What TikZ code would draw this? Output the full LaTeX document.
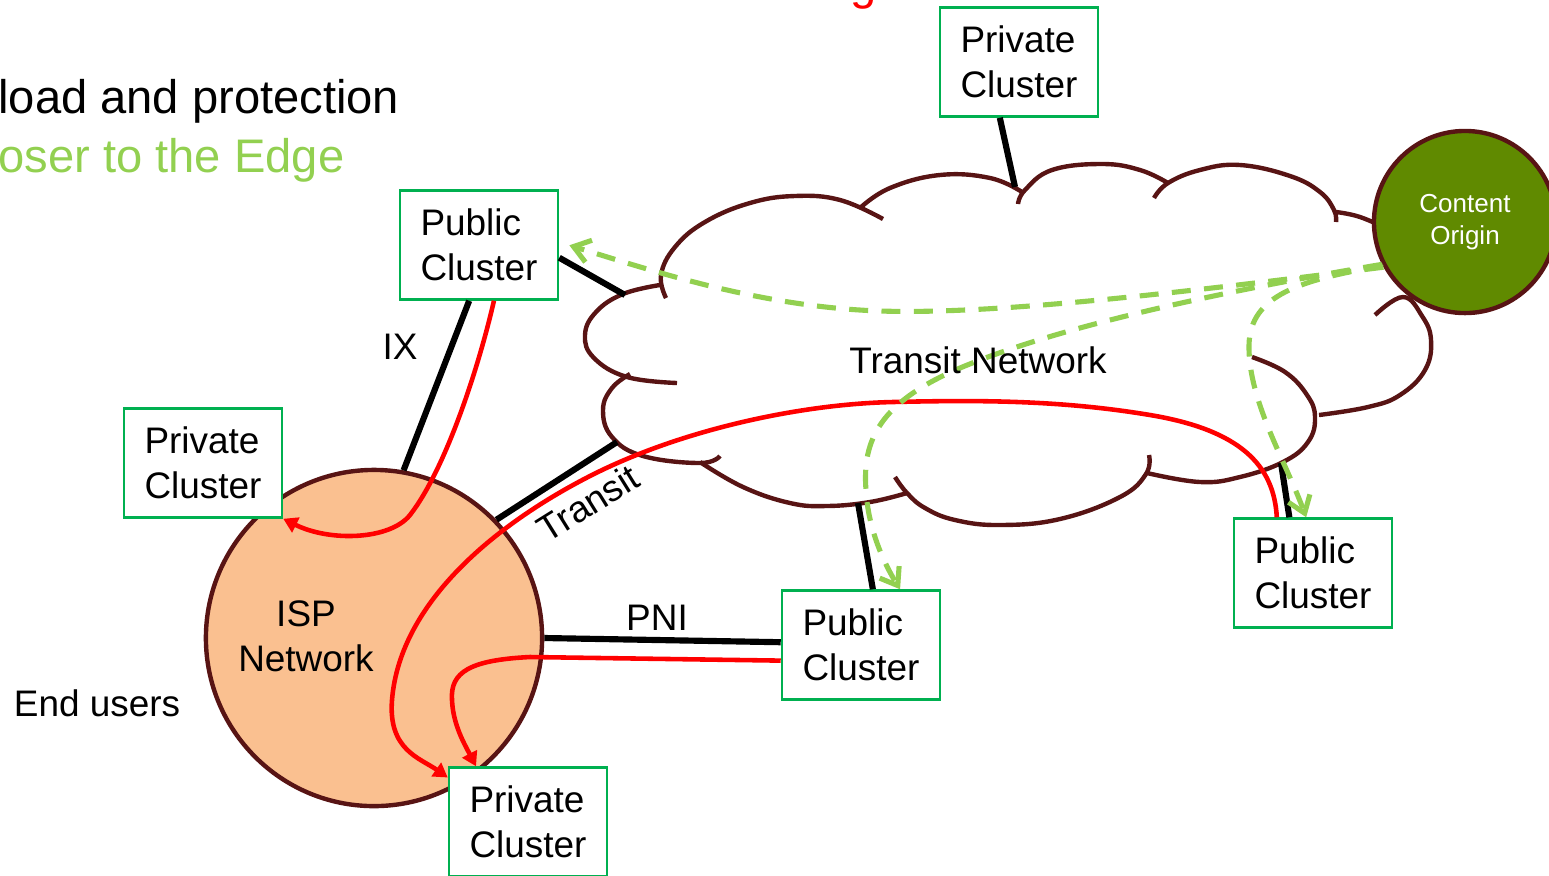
\documentclass[tikz,border=0pt]{standalone}
\usepackage{fontspec}
\setmainfont{Liberation Sans}
\usetikzlibrary{arrows.meta}
\definecolor{boxgreen}{RGB}{0,176,80}
\definecolor{edgebrown}{RGB}{88,20,20}
\definecolor{ispfill}{RGB}{250,192,144}
\definecolor{originfill}{RGB}{96,138,0}
\definecolor{dashgreen}{RGB}{146,208,80}

\begin{document}
\begin{tikzpicture}[x=0.01cm, y=-0.01cm,
  every node/.style = {font=\fontsize{10.5}{12.8}\selectfont},
  cluster/.style = {draw=boxgreen, line width=0.7pt, fill=white,
    minimum width=1.58cm, minimum height=1.09cm, align=left, inner sep=0pt},
  cloudline/.style = {draw=edgebrown, line width=1.25pt},
  link/.style = {line width=1.75pt},
  route/.style = {red, line width=1.3pt, -{Triangle[length=4pt, width=4.6pt]}},
  fetch/.style = {dashgreen, line width=1.45pt, dash pattern=on 5.4pt off 3.8pt,
    -{Straight Barb[length=4.5pt, width=6.5pt]}},
  bigtext/.style = {anchor=base east, inner sep=0pt, font=\fontsize{13.4}{15}\selectfont}]
    \useasboundingbox (0,0) rectangle (1549,875);
    \clip (0,0) rectangle (1549,875);

    \node[bigtext] (title) at (400,113) {load and protection};
    \node[bigtext, text=dashgreen] (subtitle) at (345,172) {oser to the Edge};
    \node[bigtext, anchor=base west, text=red] (heading) at (850,-1) {g};

    % transit cloud
    \draw[cloudline] plot[smooth, tension=0.7] coordinates {(660,285) (623,294) (596,312) (585,335) (594,358) (627,377) (677,383)};
    \draw[cloudline] plot[smooth, tension=0.7] coordinates {(666,298) (661,275) (675,247) (705,222) (750,203) (795,196) (840,200) (883,219)};
    \draw[cloudline] plot[smooth, tension=0.7] coordinates {(860,208) (890,188) (940,175) (990,178) (1022,192)};
    \draw[cloudline] plot[smooth, tension=0.7] coordinates {(1018,204) (1025,190) (1052,170) (1102,164) (1140,170) (1168,183)};
    \draw[cloudline] plot[smooth, tension=0.7] coordinates {(1154,198) (1168,183) (1200,170) (1240,165) (1290,176) (1320,192) (1334,210) (1336,222)};
    \draw[cloudline] plot[smooth, tension=0.7] coordinates {(1336,212) (1360,217) (1390,230)};
    \draw[cloudline] plot[smooth, tension=0.7] coordinates {(1375,315) (1403,297) (1422,316) (1431,340) (1425,370) (1400,395) (1368,407) (1319,415)};
    \draw[cloudline] plot[smooth, tension=0.7] coordinates {(1252,357) (1285,372) (1307,395) (1315,417) (1308,442) (1283,462) (1240,477) (1200,482) (1147,473)};
    \draw[cloudline] plot[smooth, tension=0.7] coordinates {(1149,455) (1146,474) (1120,497) (1060,519) (1000,525) (955,520) (925,508) (907,493) (895,477)};
    \draw[cloudline] plot[smooth, tension=0.7] coordinates {(700,462) (743,487) (790,503) (827,506) (870,502) (907,493)};
    \draw[cloudline] plot[smooth, tension=0.7] coordinates {(630,374) (612,388) (603,410) (612,437) (643,456) (700,463) (720,456)};
    \coordinate (cTop) at (1015,187);
    \coordinate (cUL) at (625,295);
    \coordinate (cTransit) at (617,442);
    \coordinate (cMid) at (858,503);
    \coordinate (cRight) at (1281,463);

    \node[circle, draw=edgebrown, line width=1.25pt, fill=ispfill,
      minimum size=3.36cm, inner sep=0pt] (isp) at (374,638) {};
    \node[circle, draw=edgebrown, line width=1.25pt, fill=originfill, text=white,
      minimum size=1.82cm, inner sep=0pt, align=center,
      font=\fontsize{7.4}{9.1}\selectfont] (origin) at (1465,222) {Content\\Origin};

    \node[cluster] (privTop) at (1019,62) {Private\\Cluster};
    \node[cluster] (pubUL) at (479,245) {Public\\Cluster};
    \node[cluster] (privLeft) at (203,463) {Private\\Cluster};
    \node[cluster] (pubMid) at (861,645) {Public\\Cluster};
    \node[cluster] (pubRight) at (1313,573) {Public\\Cluster};
    \node[cluster] (privBot) at (528,822) {Private\\Cluster};

    \draw[link] (privTop.251) -- (cTop);
    \draw[link] (pubUL.351) -- (cUL);
    \draw[link] (pubUL.260) -- (isp.80);
    \draw[link] (isp.44) -- (cTransit);
    \draw[link] (isp.0) -- (pubMid.178);
    \draw[link] (pubMid.78) -- (cMid);
    \draw[link] (pubRight.113) -- (cRight);

    \draw[route] (pubUL.285) .. controls (478,370) and (445,470) .. (410,515)
      .. controls (390,540) and (330,542) .. (privLeft.south east);
    \draw[route] (pubRight.123) .. controls (1274,465) and (1240,430) .. (1150,415)
      .. controls (1060,400) and (980,400) .. (893,402)
      .. controls (800,404) and (680,430) .. (590,476)
      .. controls (500,522) and (400,600) .. (392,700)
      .. controls (388,750) and (420,758) .. (privBot.151);
    \draw[route] (pubMid.191) -- (530,657)
      .. controls (470,660) and (450,672) .. (452,700)
      .. controls (453,725) and (465,745) .. (privBot.133);

    \draw[fetch, shorten >=3pt] (origin.209) .. controls (1200,290) and (1000,315) .. (880,311)
      .. controls (760,307) and (650,270) .. (pubUL.2);
    \draw[fetch] (origin.207) .. controls (1200,295) and (1050,330) .. (960,368)
      .. controls (880,402) and (862,440) .. (866,490)
      .. controls (868,530) and (885,565) .. (pubMid.55);
    \draw[fetch] (origin.208) .. controls (1300,280) and (1250,295) .. (1249,345)
      .. controls (1248,400) and (1285,460) .. (pubRight.97);

    \node (lblIX) at (400,347) {IX};
    \node (lblPNI) at (657,618) {PNI};
    \node[rotate=32] (lblTransit) at (588,503) {Transit};
    \node (lblCloud) at (978,360) {Transit Network};
    \node[align=center] (lblISP) at (306,636) {ISP\\Network};
    \node (lblUsers) at (97,703) {End users};
\end{tikzpicture}
\end{document}
